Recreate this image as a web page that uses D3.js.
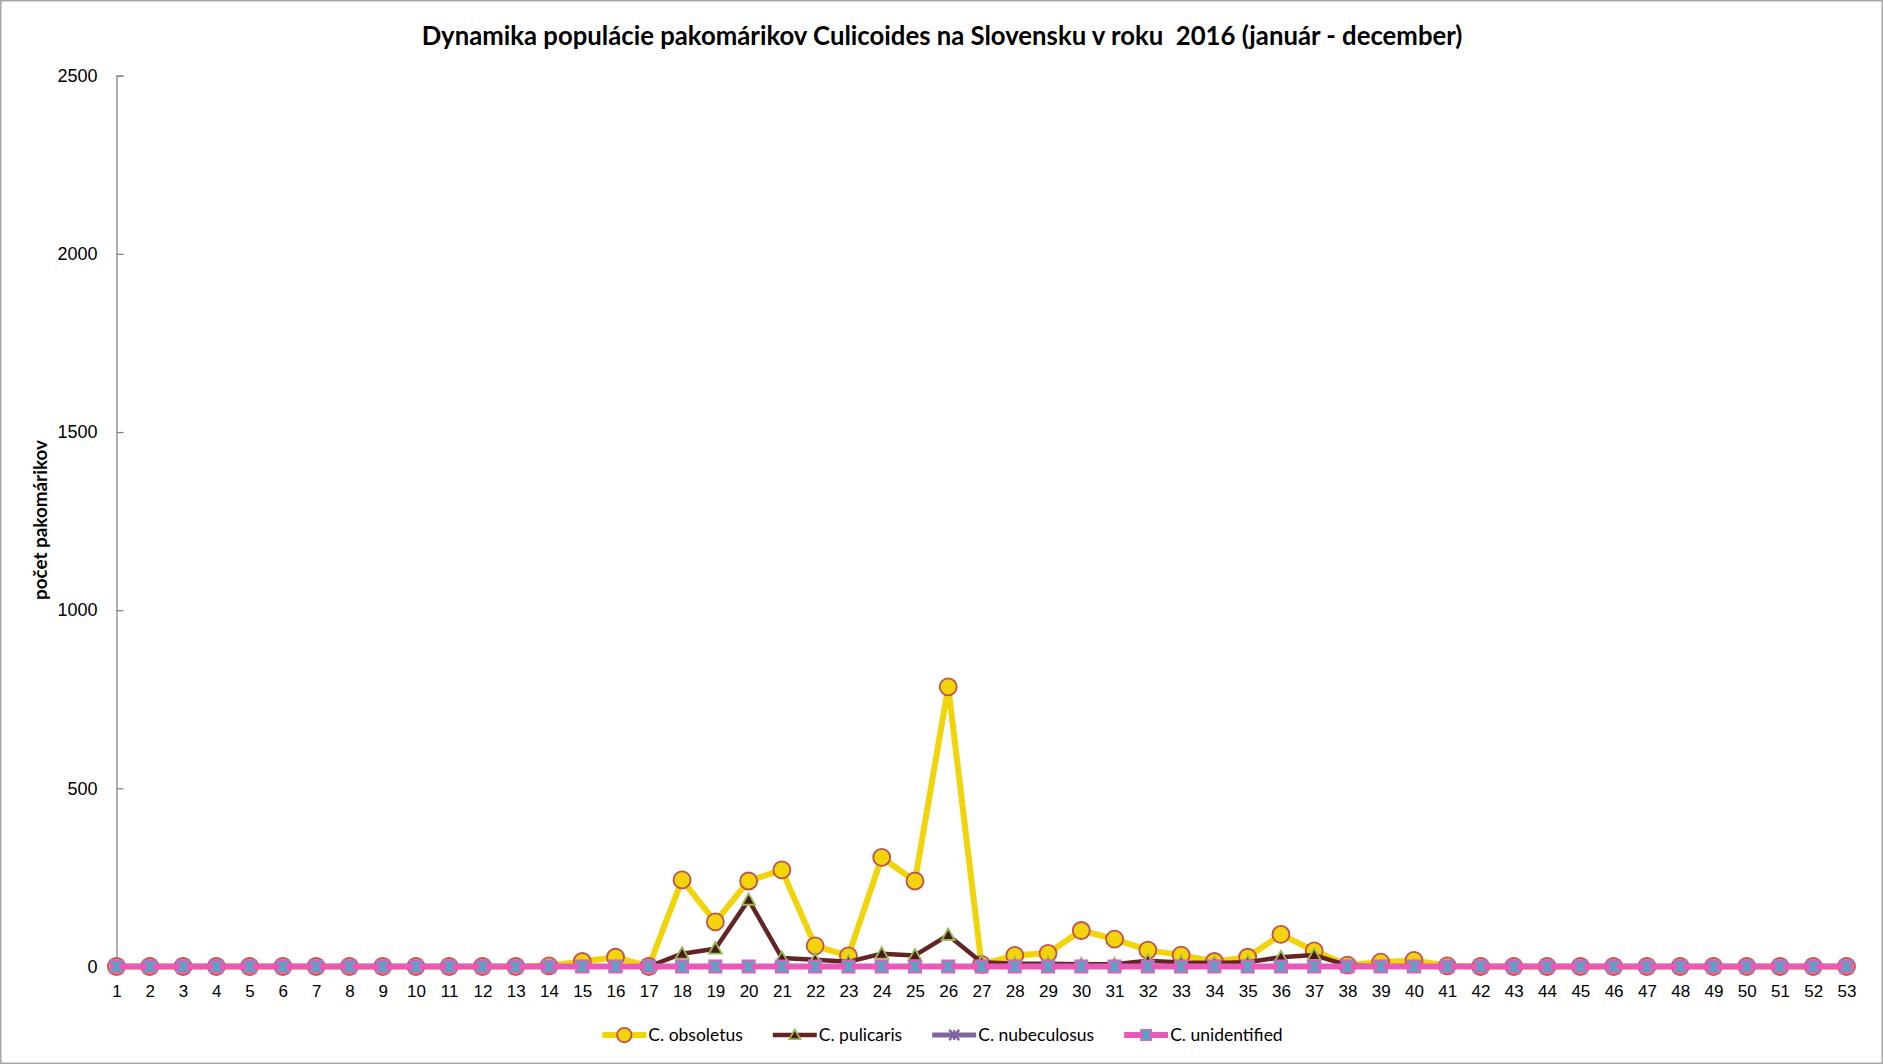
<!DOCTYPE html>
<html>
<head>
<meta charset="utf-8">
<script src="https://cdn.jsdelivr.net/npm/d3@7"></script>
<style>
  body { margin: 0; background: #fff; }
  svg { display: block; font-family: Lato, "Open Sans", sans-serif; }
</style>
</head>
<body>
<svg id="chart" width="1883" height="1064"></svg>
<script>
// ===============================
// Dáta
// ===============================
const weeks = [1, 2, 3, 4, 5, 6, 7, 8, 9, 10, 11, 12, 13, 14, 15, 16, 17, 18, 19, 20,
  21, 22, 23, 24, 25, 26, 27, 28, 29, 30, 31, 32, 33, 34, 35, 36, 37, 38, 39, 40,
  41, 42, 43, 44, 45, 46, 47, 48, 49, 50, 51, 52, 53];

const obsoletus = [0, 0, 0, 0, 0, 0, 0, 0, 0, 0, 0, 0, 0, 2, 14, 26, 0, 243, 125, 240,
  271, 58, 30, 306, 240, 785, 6, 31, 37, 101, 77, 46, 32, 14, 26, 90, 44, 4, 12, 17,
  2, 0, 0, 0, 0, 0, 0, 0, 0, 0, 0, 0, 0];

const pulicaris = [0, 0, 0, 0, 0, 0, 0, 0, 0, 0, 0, 0, 0, 0, 0, 1, 0, 36, 50, 187,
  24, 19, 13, 36, 31, 88, 12, 8, 8, 6, 6, 16, 11, 10, 12, 26, 32, 3, 0, 0,
  0, 0, 0, 0, 0, 0, 0, 0, 0, 0, 0, 0, 0];

const nubeculosus = [0, 0, 0, 0, 0, 0, 0, 0, 0, 0, 0, 0, 0, 0, 0, 0, 0, 0, 0, 0,
  0, 0, 0, 0, 0, 0, 0, 0, 0, 0, 0, 0, 0, 0, 0, 0, 0, 0, 0, 0,
  0, 0, 0, 0, 0, 0, 0, 0, 0, 0, 0, 0, 0];

const unidentified = [0, 0, 0, 0, 0, 0, 0, 0, 0, 0, 0, 0, 0, 0, 0, 0, 0, 0, 0, 0,
  0, 0, 0, 0, 0, 0, 0, 0, 0, 0, 0, 0, 0, 0, 0, 0, 0, 0, 0, 0,
  0, 0, 0, 0, 0, 0, 0, 0, 0, 0, 0, 0, 0];

const yTicks = [0, 500, 1000, 1500, 2000, 2500];

const seriesNames = ["C. obsoletus", "C. pulicaris", "C. nubeculosus", "C. unidentified"];

const titleText = "Dynamika populácie pakomárikov Culicoides na Slovensku v roku  2016 (január - december)";
const yLabelText = "počet pakomárikov";

// ===============================
// Štýly sérií
// ===============================
const series = [
  { name: seriesNames[0], values: obsoletus, line: "#f2d40a", width: 6, marker: "circle" },
  { name: seriesNames[1], values: pulicaris, line: "#632523", width: 4.5, marker: "triangle" },
  { name: seriesNames[2], values: nubeculosus, line: "#8064a2", width: 5, marker: "star" },
  { name: seriesNames[3], values: unidentified, line: "#e85ab9", width: 6, marker: "square" }
];

const svg = d3.select("#chart");
const W = 1883, H = 1064;

// prispôsobí veľkosť písma požadovanej šírke textu
function fitWidth(sel, target) {
  const base = parseFloat(sel.style("font-size"));
  const len = sel.node().getComputedTextLength();
  sel.style("font-size", (base * target / len).toFixed(2) + "px");
}

// rámik
svg.append("rect")
  .attr("x", 0.75).attr("y", 0.75)
  .attr("width", W - 1.5).attr("height", H - 1.5)
  .attr("fill", "#fff")
  .attr("stroke", "#a6a6a6")
  .attr("stroke-width", 1.5);

// ===============================
// Škály
// ===============================
const x = d3.scalePoint()
  .domain(weeks)
  .range([116.5, 1846.5]);

const y = d3.scaleLinear()
  .domain([0, 2500])
  .range([966.5, 75.7]);

// ===============================
// Osi
// ===============================
const yAxis = svg.append("g")
  .attr("transform", "translate(116.5,0)")
  .call(d3.axisRight(y).tickValues(yTicks).tickSize(7).tickFormat(d => d));

yAxis.select(".domain").attr("stroke", "#868686").attr("stroke-width", 1.3);
yAxis.selectAll(".tick line").attr("stroke", "#868686").attr("stroke-width", 1.3);
yAxis.selectAll(".tick text")
  .attr("x", -19)
  .attr("text-anchor", "end")
  .attr("fill", "#000")
  .style("font-size", "18px");

const xAxis = svg.append("g")
  .attr("transform", "translate(0,966.5)")
  .call(d3.axisBottom(x).tickSize(0).tickPadding(18));

xAxis.select(".domain").attr("stroke", "#868686").attr("stroke-width", 1.3);
xAxis.selectAll(".tick text")
  .attr("fill", "#000")
  .style("font-size", "17px");

// ===============================
// Markery
// ===============================
function drawMarker(g, type, px, py, size) {
  const s = size || 1;
  if (type === "circle") {
    g.append("circle")
      .attr("cx", px).attr("cy", py).attr("r", 8.5 * s)
      .attr("fill", "#f2d40a")
      .attr("stroke", "#c0504d")
      .attr("stroke-width", 1.8);
  } else if (type === "triangle") {
    const r = 6.5 * s;
    g.append("path")
      .attr("d", `M${px},${py - r}L${px + r},${py + r * 0.75}L${px - r},${py + r * 0.75}Z`)
      .attr("fill", "#4a1a18")
      .attr("stroke", "#9bbb59")
      .attr("stroke-width", 1.8);
  } else if (type === "star") {
    const r = 6 * s;
    g.append("path")
      .attr("d", `M${px - r},${py - r}L${px + r},${py + r}M${px + r},${py - r}L${px - r},${py + r}M${px},${py - r}L${px},${py + r}`)
      .attr("stroke", "#8064a2")
      .attr("stroke-width", 2.2)
      .attr("fill", "none");
  } else if (type === "square") {
    const h = 7 * s;
    g.append("rect")
      .attr("x", px - h).attr("y", py - h)
      .attr("width", 2 * h).attr("height", 2 * h)
      .attr("fill", "#e85ab9");
    const r = 5.5 * s;
    g.append("path")
      .attr("d", `M${px - r},${py - r}L${px + r},${py + r}M${px + r},${py - r}L${px - r},${py + r}M${px},${py - r}L${px},${py + r}`)
      .attr("stroke", "#4bacc6")
      .attr("stroke-width", 2.4)
      .attr("fill", "none");
  }
}

// ===============================
// Série
// ===============================
const line = d3.line()
  .x((d, i) => x(weeks[i]))
  .y(d => y(d));

series.forEach(s => {
  const g = svg.append("g").attr("class", "series");
  g.append("path")
    .datum(s.values)
    .attr("d", line)
    .attr("fill", "none")
    .attr("stroke", s.line)
    .attr("stroke-width", s.width)
    .attr("stroke-linejoin", "round");
  s.values.forEach((v, i) => drawMarker(g, s.marker, x(weeks[i]), y(v)));
});

// ===============================
// Titulok a popis osi
// ===============================
const title = svg.append("text")
  .attr("x", 942)
  .attr("y", 45)
  .attr("text-anchor", "middle")
  .attr("xml:space", "preserve")
  .style("white-space", "pre")
  .style("font-size", "22px")
  .style("font-weight", "bold")
  .text(titleText);
fitWidth(title, 1041);

const yLabel = svg.append("text")
  .attr("transform", "translate(47,520) rotate(-90)")
  .attr("text-anchor", "middle")
  .style("font-size", "16px")
  .style("font-weight", "bold")
  .text(yLabelText);
fitWidth(yLabel, 160);

// ===============================
// Legenda
// ===============================
const legendGap = 30;
const legend = svg.append("g").attr("class", "legend");
let lx = 0;
series.forEach((s, i) => {
  const item = legend.append("g").attr("transform", `translate(${lx},0)`);
  item.append("line")
    .attr("x1", 0).attr("x2", 44)
    .attr("y1", 0).attr("y2", 0)
    .attr("stroke", s.line)
    .attr("stroke-width", s.width);
  drawMarker(item, s.marker, 22, 0, 0.85);
  const t = item.append("text")
    .attr("x", 46)
    .attr("y", 6)
    .style("font-size", "17.5px")
    .text(s.name);
  lx += 46 + t.node().getComputedTextLength() + legendGap;
});
lx -= legendGap;
legend.attr("transform", `translate(${942.5 - lx / 2},1035)`);
</script>
</body>
</html>
